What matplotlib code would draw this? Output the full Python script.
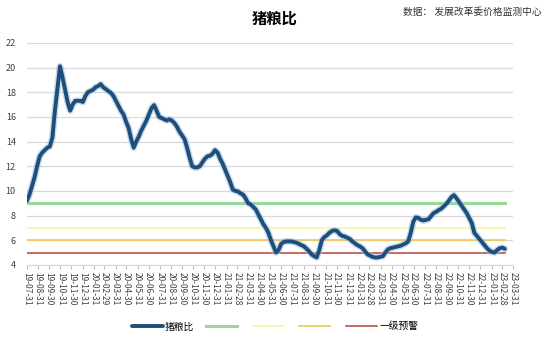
import matplotlib
matplotlib.use('Agg')
import matplotlib.pyplot as plt
import matplotlib.dates as mdates
import pandas as pd

plt.rcParams['font.family'] = ['Noto Sans CJK SC', 'DejaVu Sans']

# weekly pig/grain ratio
ratio = [
    9.2, 9.7, 10.4, 11.1, 12.0, 12.8, 13.1, 13.3, 13.5, 13.6,
    14.3, 16.5, 18.3, 20.1, 19.2, 18.2, 17.2, 16.5, 17.0, 17.3,
    17.3, 17.3, 17.2, 17.7, 18.0, 18.1, 18.2, 18.4, 18.5, 18.65,
    18.4, 18.25, 18.1, 17.95, 17.7, 17.3, 16.9, 16.5, 16.2, 15.6,
    15.1, 14.2, 13.5, 14.0, 14.4, 14.9, 15.3, 15.7, 16.2, 16.7,
    16.95, 16.5, 16.0, 15.9, 15.8, 15.7, 15.8, 15.7, 15.5, 15.2,
    14.8, 14.5, 14.2, 13.5, 12.7, 12.0, 11.9, 11.9, 12.0, 12.3,
    12.6, 12.8, 12.85, 13.0, 13.3, 13.1, 12.6, 12.2, 11.7, 11.2,
    10.7, 10.1, 10.0, 9.95, 9.8, 9.7, 9.4, 9.0, 8.9, 8.7,
    8.5, 8.1, 7.7, 7.3, 7.0, 6.6, 6.0, 5.5, 5.0, 5.2,
    5.7, 5.85, 5.9, 5.9, 5.9, 5.85, 5.8, 5.7, 5.6, 5.5,
    5.3, 5.1, 4.85, 4.7, 4.6, 5.2, 6.0, 6.25, 6.4, 6.6,
    6.75, 6.8, 6.75, 6.5, 6.35, 6.3, 6.2, 6.1, 5.9, 5.75,
    5.6, 5.5, 5.35, 5.1, 4.85, 4.75, 4.65, 4.6, 4.6, 4.65,
    4.7, 5.0, 5.25, 5.35, 5.4, 5.45, 5.5, 5.55, 5.65, 5.75,
    5.9, 6.6, 7.5, 7.85, 7.8, 7.65, 7.6, 7.65, 7.7, 7.95,
    8.2, 8.3, 8.45, 8.55, 8.75, 8.95, 9.2, 9.5, 9.65, 9.4,
    9.1, 8.8, 8.5, 8.2, 7.8, 7.4, 6.6, 6.35, 6.1, 5.85,
    5.6, 5.35, 5.15, 5.05, 5.0, 5.2, 5.35, 5.4, 5.3,
]
dates = pd.date_range('2019-07-31', periods=len(ratio), freq='7D')

# warning levels
levels = [9, 7, 6, 5]
level_colors = ['#9ad89a', '#f9f3a0', '#ecc75a', '#c0504d']
level_widths = [2.2, 1.2, 1.2, 1.2]
level_labels = [' ', ' ', ' ', '一级预警']

month_ticks = pd.date_range('2019-07-31', '2023-03-31', freq='ME')

fig = plt.figure(figsize=(5.5, 3.4), dpi=100)
ax = fig.add_axes([0.049, 0.221, 0.884, 0.653])

ax.plot(dates, ratio, color='#9dc3e6', lw=4.8, alpha=0.6, solid_capstyle='round', zorder=3)
line, = ax.plot(dates, ratio, color='#1f4e79', lw=2.8, solid_capstyle='round', zorder=4, label='猪粮比')

for lv, c, w, lab in zip(levels, level_colors, level_widths, level_labels):
    ax.plot(dates, [lv] * len(dates), color=c, lw=w, zorder=2, label=lab)

ax.set_ylim(4, 22)
ax.set_yticks(range(4, 23, 2))
ax.set_xlim(month_ticks[0], month_ticks[-1])
ax.set_xticks(month_ticks)
ax.xaxis.set_major_formatter(mdates.DateFormatter('%y-%m-%d'))
ax.tick_params(axis='x', labelsize=6, rotation=270, length=3, color='#bfbfbf', pad=2, labelcolor='#404040')
ax.tick_params(axis='y', labelsize=6.5, length=0, pad=8, labelcolor='#404040')
for lab in ax.get_xticklabels():
    lab.set_va('top')
    lab.set_ha('center')

ax.grid(axis='y', color='#d9d9d9', lw=0.9)
ax.set_axisbelow(True)
for s in ['top', 'right', 'left']:
    ax.spines[s].set_visible(False)
ax.spines['bottom'].set_color('#d9d9d9')

fig.text(0.5, 0.945, '猪粮比', ha='center', va='center', fontsize=11, fontweight='bold')
fig.text(0.985, 0.965, '数据： 发展改革委价格监测中心', ha='right', va='center', fontsize=7, color='#333333')

fig.legend(loc='center', bbox_to_anchor=(0.5, 0.04), ncol=5, frameon=False, fontsize=7,
           handlelength=3.2, handletextpad=0.2, columnspacing=1.2)

plt.savefig('out.png', dpi=100)
